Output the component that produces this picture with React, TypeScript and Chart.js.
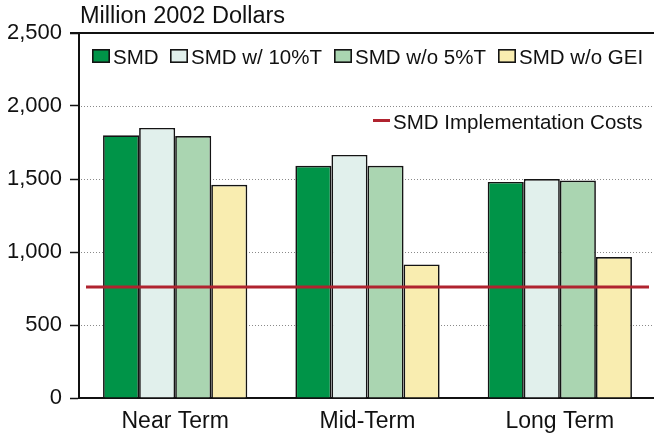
import React, { useEffect, useRef } from "react";
import { Chart, registerables } from "chart.js";

Chart.register(...registerables);

const categories = ["Near Term", "Mid-Term", "Long Term"];
const seriesLabels = ["SMD", "SMD w/ 10%T", "SMD w/o 5%T", "SMD w/o GEI"];
const smd = [1800, 1590, 1480];
const smdW10T = [1850, 1665, 1500];
const smdWo5T = [1795, 1590, 1490];
const smdWoGEI = [1460, 915, 965];
const costLabel = "SMD Implementation Costs";
const implementationCost = 760;
const yTicks = [0, 500, 1000, 1500, 2000, 2500];
const unitLabel = "Million 2002 Dollars";

const FONT = "'Liberation Sans', Arial, Helvetica, sans-serif";
const barColors = ["#009448", "#E1F0EC", "#AAD5B1", "#F9EDB0"];
const barBorder = "#141414";
const redColor = "#B0232F";

const framePlugin = {
  id: "frameAndLegend",
  beforeDatasetsDraw(chart: any) {
    const { ctx, chartArea, scales } = chart;
    const y = scales.y;
    ctx.save();
    ctx.strokeStyle = "#8a8a8a";
    ctx.lineWidth = 1;
    ctx.setLineDash([1, 2]);
    yTicks.forEach((v) => {
      if (v === yTicks[0] || v === yTicks[yTicks.length - 1]) return;
      const py = Math.round(y.getPixelForValue(v)) + 0.5;
      ctx.beginPath();
      ctx.moveTo(chartArea.left + 2, py);
      ctx.lineTo(chart.width, py);
      ctx.stroke();
    });
    ctx.setLineDash([]);
    ctx.strokeStyle = "#111";
    ctx.lineWidth = 2;
    const ty = y.getPixelForValue(yTicks[yTicks.length - 1]);
    ctx.beginPath();
    ctx.moveTo(chartArea.left - 9, ty);
    ctx.lineTo(chart.width, ty);
    ctx.stroke();
    ctx.restore();
  },
  afterDatasetsDraw(chart: any) {
    const { ctx, chartArea, scales } = chart;
    ctx.save();
    // implementation cost reference line
    const ry = scales.y.getPixelForValue(implementationCost);
    ctx.strokeStyle = redColor;
    ctx.lineWidth = 3;
    ctx.beginPath();
    ctx.moveTo(chartArea.left + 7, ry);
    ctx.lineTo(chartArea.right - 7, ry);
    ctx.stroke();

    // unit title
    ctx.font = `23.5px ${FONT}`;
    ctx.fillStyle = "#111";
    ctx.textBaseline = "alphabetic";
    ctx.textAlign = "left";
    ctx.fillText(unitLabel, 80, 23);

    // legend row 1
    ctx.font = `20.5px ${FONT}`;
    const xs = [92, 170, 334, 498];
    chart.data.datasets.forEach((ds: any, i: number) => {
      const x = xs[i];
      ctx.fillStyle = ds.backgroundColor;
      ctx.fillRect(x, 49, 18, 14);
      ctx.strokeStyle = barBorder;
      ctx.lineWidth = 1.6;
      ctx.strokeRect(x + 0.8, 49.8, 16.4, 12.4);
      ctx.fillStyle = "#111";
      ctx.fillText(ds.label, x + 21, 63.5);
    });
    // legend row 2
    ctx.strokeStyle = redColor;
    ctx.lineWidth = 3;
    ctx.beginPath();
    ctx.moveTo(373, 120.5);
    ctx.lineTo(390, 120.5);
    ctx.stroke();
    ctx.fillStyle = "#111";
    ctx.fillText(costLabel, 393, 128.5);
    ctx.restore();
  },
};

export default function App() {
  const ref = useRef<HTMLCanvasElement | null>(null);

  useEffect(() => {
    if (!ref.current) return;
    const barData = [smd, smdW10T, smdWo5T, smdWoGEI];
    const chart = new Chart(ref.current, {
      type: "bar",
      data: {
        labels: categories,
        datasets: barData.map((d, i) => ({
          label: seriesLabels[i],
          data: d,
          backgroundColor: barColors[i],
          borderColor: barBorder,
          borderWidth: 1.7,
          categoryPercentage: 0.75,
          barPercentage: 1,
        })),
      },
      options: {
        responsive: false,
        animation: false,
        devicePixelRatio: 1,
        layout: { padding: { top: 33, right: 4, left: 0, bottom: 0 } },
        plugins: {
          legend: { display: false },
          tooltip: { enabled: false },
          title: { display: false },
        },
        scales: {
          x: {
            type: "category",
            offset: true,
            grid: { display: false, drawTicks: false },
            border: { display: true, color: "#111", width: 2 },
            ticks: {
              color: "#111",
              padding: 10,
              font: { family: FONT, size: 23 },
            },
            afterFit: (s: any) => {
              s.height = 37;
            },
          },
          y: {
            type: "linear",
            min: yTicks[0],
            max: yTicks[yTicks.length - 1],
            afterBuildTicks: (s: any) => {
              s.ticks = yTicks.map((v) => ({ value: v }));
            },
            grid: {
              display: true,
              drawOnChartArea: false,
              drawTicks: true,
              tickLength: 9,
              tickColor: "#111",
              tickWidth: 1.5,
              color: "#111",
            },
            border: { display: true, color: "#111", width: 2 },
            ticks: {
              color: "#111",
              padding: 8,
              font: { family: FONT, size: 22 },
              callback: (v: any) => Number(v).toLocaleString("en-US"),
            },
            afterFit: (s: any) => {
              s.width = 79;
            },
          },
        },
      },
      plugins: [framePlugin],
    });
    return () => chart.destroy();
  }, []);

  return (
    <div
      style={{
        position: "fixed",
        left: 0,
        top: 0,
        width: 654,
        height: 435,
        overflow: "hidden",
        background: "#fff",
      }}
    >
      <canvas ref={ref} width={660} height={435} style={{ width: 660, height: 435, display: "block" }} />
    </div>
  );
}
